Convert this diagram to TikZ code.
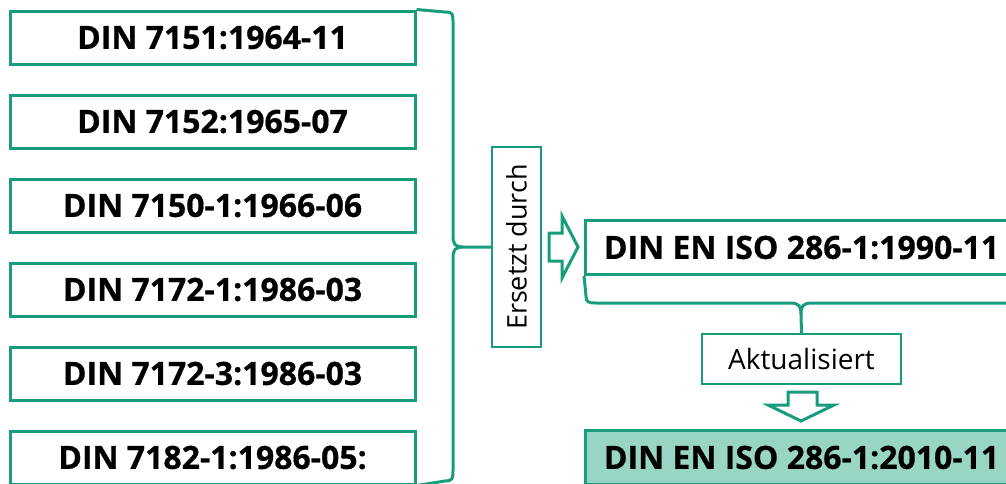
\documentclass[tikz,border=0pt]{standalone}
\usepackage{fontspec}
\setmainfont{Open Sans}[BoldFeatures={FakeBold=0.6}]
\definecolor{fgreen}{RGB}{23,156,125}
\definecolor{flight}{RGB}{152,213,196}
\begin{document}
\begin{tikzpicture}[x=1pt,y=-1pt,
  dinbox/.style={draw=fgreen,line width=3pt,minimum width=405pt,minimum height=53pt,inner sep=0pt,font=\fontsize{32}{34}\selectfont\bfseries},
  bigbox/.style={draw=fgreen,line width=3pt,minimum height=54pt,inner sep=0pt,font=\fontsize{32}{34}\selectfont\bfseries},
  labbox/.style={draw=fgreen,line width=1.5pt,inner sep=0pt,font=\fontsize{28}{30}\selectfont},
  brace/.style={draw=fgreen,line width=3pt},
  hollow/.style={draw=fgreen,line width=3pt,fill=white,line join=miter}]
\useasboundingbox (0,0) rectangle (1006,483);
\node[dinbox] (d1) at (212.5,37.5) {DIN 7151:1964-11};
\node[dinbox] (d2) at (212.5,121.5) {DIN 7152:1965-07};
\node[dinbox] (d3) at (212.5,205.5) {DIN 7150-1:1966-06};
\node[dinbox] (d4) at (212.5,289.5) {DIN 7172-1:1986-03};
\node[dinbox] (d5) at (212.5,373.5) {DIN 7172-3:1986-03};
\node[dinbox] (d6) at (212.5,457.5) {DIN 7182-1:1986-05:};
\node[labbox,minimum width=49pt,minimum height=200pt] (ers) at (516.5,247) {};
\node[rotate=90,font=\fontsize{27}{29}\selectfont] at (ers.center) {Ersetzt durch};
\node[bigbox,anchor=north west,minimum width=432pt] (n1) at (584,219) {DIN EN ISO 286-1:1990-11};
\node[labbox,minimum width=199pt,minimum height=50pt] (akt) at (801.5,359) {Aktualisiert};
\node[bigbox,anchor=north west,minimum width=432pt,fill=flight] (n2) at (584,429) {DIN EN ISO 286-1:2010-11};
% brace left
\coordinate (bt) at (d1.north east);
\coordinate (bb) at (d6.south east);
\draw[brace] (bt) -- (445,12) .. controls (453,12) and (453,14) .. (453,22) -- (453,236) .. controls (453,244) and (455,247) .. (463,247) -- (ers.west);
\draw[brace] (bb) -- (445,481) .. controls (453,481) and (453,478) .. (453,470) -- (453,258) .. controls (453,250) and (455,247) .. (463,247);
% brace under n1
\draw[brace] (n1.south west) -- (586,296) .. controls (586,302) and (588,303) .. (596,303) -- (790,303) .. controls (799,303) and (801,306) .. (801,314) -- (akt.north);
\draw[brace] (801,314) .. controls (801,306) and (803,303) .. (812,303) -- (1010,303);
% hollow right arrow
\draw[hollow] (549,233) -- (562,233) -- (562,216) -- (578,247) -- (562,278) -- (562,261) -- (549,261) -- cycle;
% hollow down arrow
\draw[hollow] (788,392) -- (817,392) -- (817,405) -- (834,405) -- (801,421) -- (768,405) -- (788,405) -- cycle;
\end{tikzpicture}
\end{document}
